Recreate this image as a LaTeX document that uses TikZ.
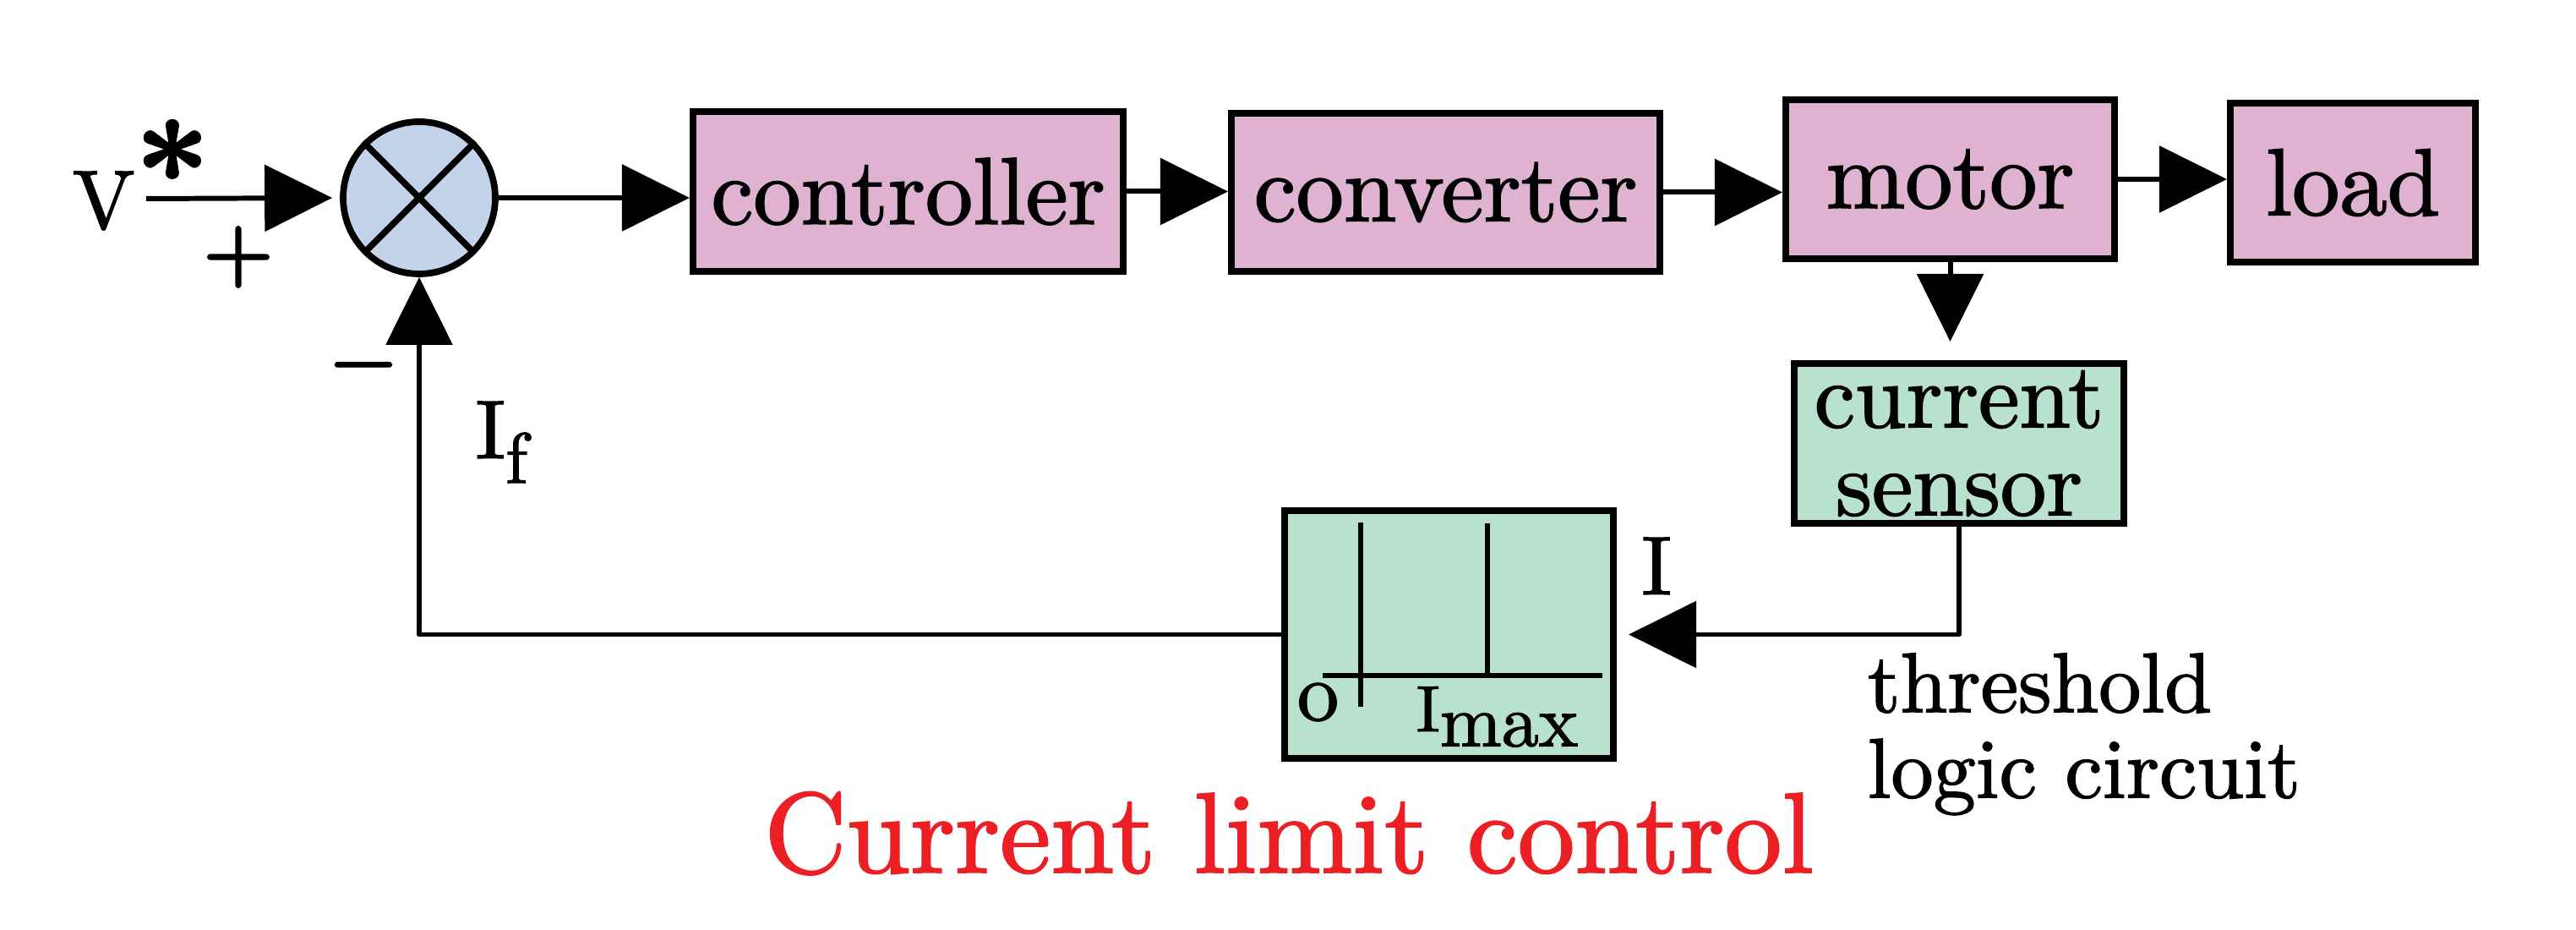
\documentclass[tikz,border=0pt]{standalone}
\usepackage{fontspec}
\setmainfont{lmroman10-regular.otf}[BoldFont=lmroman10-bold.otf,
                                     RawFeature={embolden=1.5}]
\usepackage{tikz}
\usetikzlibrary{arrows.meta, calc}
\definecolor{CLPink}{RGB}{222,178,208}
\definecolor{CLGreen}{RGB}{184,226,206}
\definecolor{CLBlue}{RGB}{194,211,234}
\definecolor{CLRed}{RGB}{236,32,36}
\newcommand{\fsz}[1]{\fontsize{#1}{#1}\selectfont}

\begin{document}
\begin{tikzpicture}[
          blk/.style={rectangle, draw=black, line width=2.3pt, inner sep=0pt,
                      font=\fsz{32}, align=center},
          arr/.style={-{Triangle[length=0.8cm, width=0.78cm]}, line width=1.7pt,
                      line join=round},
          lbl/.style={inner sep=0pt, font=\fsz{28}}
        ]
        \useasboundingbox (0,0) rectangle (30.48,11);

        % Forward path
        \node[circle, draw=black, line width=2.2pt, fill=CLBlue,
              minimum size=1.8cm, inner sep=0pt] (sum) at (4.96, 8.66) {};
        \draw[line width=2.2pt] (sum.north west) -- (sum.south east);
        \draw[line width=2.2pt] (sum.north east) -- (sum.south west);

        \node[blk, fill=CLPink, minimum width=5.09cm, minimum height=1.89cm]
              (ctrl)  at (10.745, 8.735) {controller};
        \node[blk, fill=CLPink, minimum width=5.07cm, minimum height=1.87cm]
              (conv)  at (17.105, 8.725) {converter};
        \node[blk, fill=CLPink, minimum width=3.89cm, minimum height=1.88cm]
              (motor) at (23.075, 8.88) {motor};
        \node[blk, fill=CLPink, minimum width=2.90cm, minimum height=1.88cm]
              (load)  at (27.84, 8.84) {load};

        % Feedback path
        \node[blk, fill=CLGreen, minimum width=3.90cm, minimum height=1.89cm,
              font=\fontsize{31}{29.6}\selectfont]
              (sens) at (23.18, 5.755) {current\\sensor};
        \node[blk, fill=CLGreen, minimum width=3.89cm, minimum height=2.93cm]
              (thr)  at (17.145, 3.495) {};

        % Threshold characteristic
        \draw[line width=1.7pt] (16.10, 4.82) -- (16.10, 2.64);
        \draw[line width=1.7pt] (17.60, 4.81) -- (17.60, 3.01);
        \draw[line width=1.7pt] (15.65, 3.01) -- (18.96, 3.01);
        \node[lbl, anchor=base] (orig) at (15.595, 2.48) {o};
        \node[lbl, anchor=base west, font=\fsz{22}] (imax) at (16.75, 2.35)
              {I\raisebox{-5pt}{\fsz{25}max}};

        % Connectors
        \coordinate (vin) at (1.73, 8.65);
        \draw[arr, shorten >=0.09cm] (vin) -- (sum.west);
        \draw[arr] (sum.east) -- (sum.east -| ctrl.west);
        \draw[arr] (ctrl.east) -- (ctrl.east -| conv.west);
        \draw[arr] (conv.east) -- (conv.east -| motor.west);
        \draw[arr] (motor.east) -- (motor.east -| load.west);
        \draw[arr, shorten >=0.22cm] (motor.south) -- (motor.south |- sens.north);
        \draw[arr, shorten >=0.14cm] (sens.south) |- (thr.east);
        \draw[arr] (thr.west) -| (sum.south);

        % Labels
        \node[lbl, anchor=base west] (vref) at (0.85, 8.30)
              {V\raisebox{3.4pt}{\fsz{44}\bfseries *}};
        \node[lbl, font=\fsz{27}\bfseries] (plus) at (2.82, 7.96) {+};
        \node[lbl, font=\fsz{25}\bfseries] (minus) at (4.30, 6.59) {−};
        \node[lbl, anchor=base west] (ifb) at (5.62, 5.58)
              {I\raisebox{-8.3pt}{\fsz{24}f}};
        \node[lbl, anchor=base] (iin) at (19.60, 3.97) {I};
        \node[lbl, anchor=north west, align=left,
              font=\fontsize{28.5}{28.8}\selectfont] (tlc) at (22.09, 3.28)
              {threshold\\logic circuit};

        \node[lbl, anchor=base, font=\fsz{38.5}, text=CLRed] (title) at (15.25, 0.68)
              {Current limit control};
      \end{tikzpicture}
\end{document}
